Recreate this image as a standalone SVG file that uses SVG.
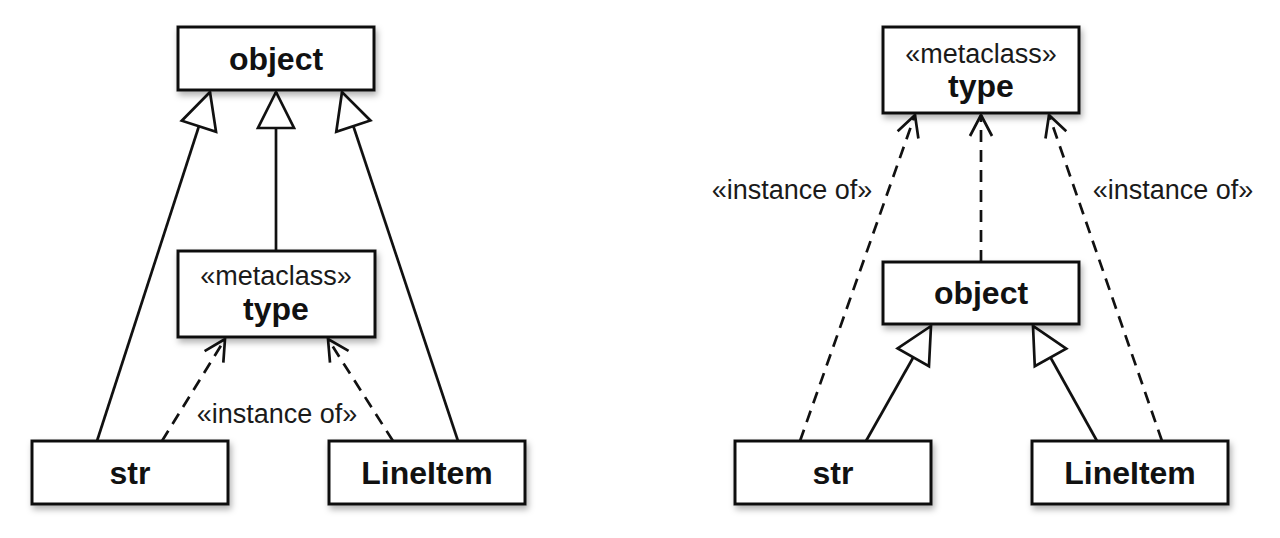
<svg xmlns="http://www.w3.org/2000/svg" width="1280" height="538" viewBox="0 0 1280 538">
<style>
  .box { fill: #ffffff; stroke: #111111; stroke-width: 3; filter: url(#shadow); }
  .name { font-family: "Liberation Sans", Arial, Helvetica, sans-serif; font-weight: bold; font-size: 32px; fill: #111111; text-anchor: middle; }
  .stereo { font-family: "Liberation Sans", Arial, Helvetica, sans-serif; font-size: 27px; fill: #1a1a1a; text-anchor: middle; }
  .gen { fill: none; stroke: #111111; stroke-width: 2.7; marker-end: url(#hollow); }
  .inst { fill: none; stroke: #111111; stroke-width: 2.7; stroke-dasharray: 12 8; marker-end: url(#open); }
</style>
<defs>
  <filter id="shadow" x="-10%" y="-20%" width="130%" height="160%">
    <feDropShadow dx="2" dy="4" stdDeviation="3" flood-color="#000000" flood-opacity="0.3"/>
  </filter>
  <marker id="hollow" markerUnits="userSpaceOnUse" markerWidth="40" markerHeight="40" viewBox="-37 -20 40 40" refX="0" refY="0" orient="auto" overflow="visible">
    <path d="M 0 0 L -36 -18 L -36 18 Z" fill="#ffffff" stroke="#111111" stroke-width="2.7" stroke-linejoin="miter"/>
  </marker>
  <marker id="open" markerUnits="userSpaceOnUse" markerWidth="30" markerHeight="30" viewBox="-25 -15 30 30" refX="0" refY="0" orient="auto" overflow="visible">
    <path d="M -21 -11 L 0 0 L -21 11" fill="none" stroke="#111111" stroke-width="2.7"/>
  </marker>
</defs>
<rect width="1280" height="538" fill="#ffffff"/>

<g id="connectors">
  <!-- left diagram -->
  <line class="gen" x1="97" y1="441" x2="210" y2="92"/>
  <line class="gen" x1="276" y1="251" x2="276" y2="92"/>
  <line class="gen" x1="458" y1="441" x2="342" y2="92"/>
  <line class="inst" x1="162" y1="441" x2="225" y2="339"/>
  <line class="inst" x1="393" y1="441" x2="328" y2="339"/>
  <text class="stereo" x="277" y="423">«instance of»</text>
  <!-- right diagram -->
  <line class="inst" x1="800" y1="441" x2="915" y2="115"/>
  <line class="inst" x1="981" y1="262" x2="981" y2="115"/>
  <line class="inst" x1="1162" y1="441" x2="1049" y2="115"/>
  <line class="gen" x1="866" y1="441" x2="931" y2="326"/>
  <line class="gen" x1="1097" y1="441" x2="1033" y2="326"/>
  <text class="stereo" x="792" y="199">«instance of»</text>
  <text class="stereo" x="1173" y="199">«instance of»</text>
</g>

<g id="left-object">
  <rect class="box" x="178" y="27" width="196" height="63"/>
  <text class="name" x="276" y="70">object</text>
</g>
<g id="left-type">
  <rect class="box" x="178" y="251" width="197" height="86"/>
  <text class="stereo" x="276" y="285">«metaclass»</text>
  <text class="name" x="276" y="320">type</text>
</g>
<g id="left-str">
  <rect class="box" x="32" y="441" width="196" height="63"/>
  <text class="name" x="130" y="484">str</text>
</g>
<g id="left-lineitem">
  <rect class="box" x="329" y="441" width="196" height="63"/>
  <text class="name" x="427" y="484">LineItem</text>
</g>

<g id="right-type">
  <rect class="box" x="883" y="27" width="196" height="86"/>
  <text class="stereo" x="981" y="63">«metaclass»</text>
  <text class="name" x="981" y="97">type</text>
</g>
<g id="right-object">
  <rect class="box" x="883" y="262" width="196" height="62"/>
  <text class="name" x="981" y="304">object</text>
</g>
<g id="right-str">
  <rect class="box" x="735" y="441" width="196" height="63"/>
  <text class="name" x="833" y="484">str</text>
</g>
<g id="right-lineitem">
  <rect class="box" x="1032" y="441" width="196" height="63"/>
  <text class="name" x="1130" y="484">LineItem</text>
</g>
</svg>
